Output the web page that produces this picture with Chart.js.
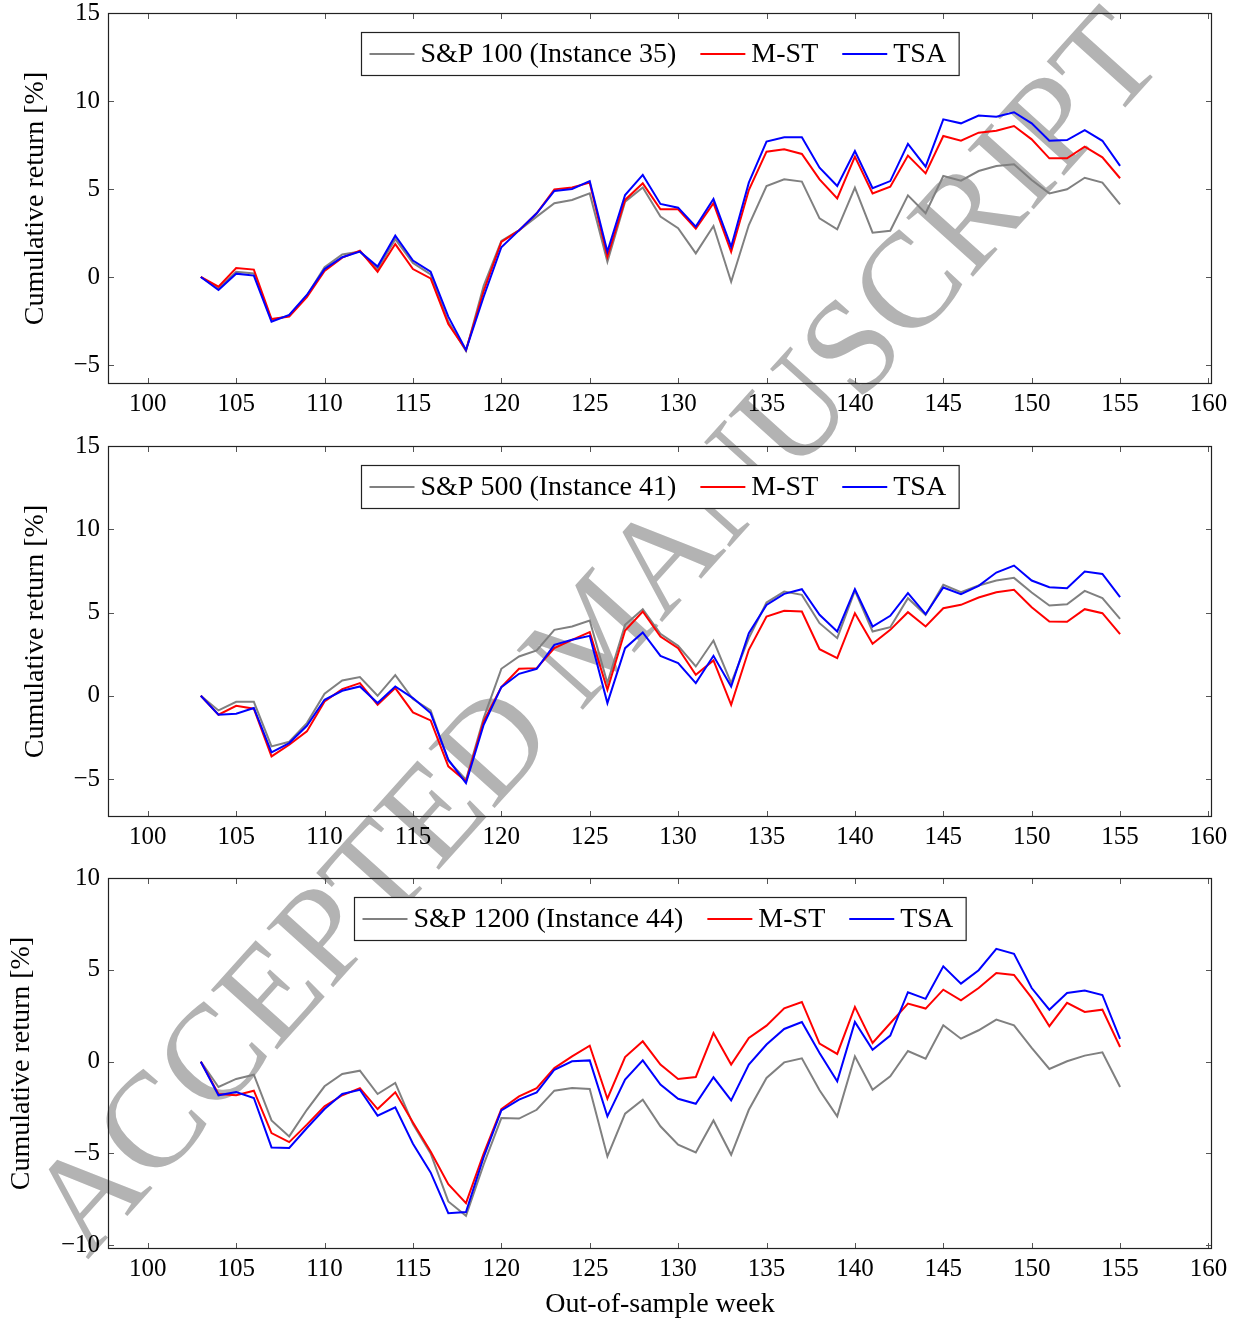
<!DOCTYPE html>
<html><head><meta charset="utf-8">
<script src="https://cdn.jsdelivr.net/npm/chart.js@4/dist/chart.umd.min.js"></script>
<style>
html,body{margin:0;padding:0;background:#fff;}
body{width:1241px;height:1321px;position:relative;overflow:hidden;}
.wm{position:absolute;left:593px;top:630px;transform:translate(-50%,-50%) rotate(-48deg);font:136px "Liberation Serif";color:#b3b3b3;white-space:nowrap;line-height:1;}
.pane{position:absolute;left:0;width:1241px;}
</style></head><body>
<div class="wm">ACCEPTED MANUSCRIPT</div>
<div class="pane" style="top:0;height:425px"><canvas id="c1"></canvas></div>
<div class="pane" style="top:433px;height:425px"><canvas id="c2"></canvas></div>
<div class="pane" style="top:865px;height:456px"><canvas id="c3"></canvas></div>
<script>
const weeks = [103,104,105,106,107,108,109,110,111,112,113,114,115,116,117,118,119,120,121,122,123,124,125,126,127,128,129,130,131,132,133,134,135,136,137,138,139,140,141,142,143,144,145,146,147,148,149,150,151,152,153,154,155];
const xTicks = [100,105,110,115,120,125,130,135,140,145,150,155,160];

// Panel 1: S&P 100 (Instance 35)
const sp100 = [0,-0.65,0.3,0.2,-2.45,-2.2,-1.05,0.55,1.28,1.45,0.45,2.15,0.8,0.15,-2.55,-4.2,-0.5,2.05,2.65,3.43,4.19,4.38,4.75,0.87,4.28,5.09,3.43,2.77,1.34,2.9,-0.27,2.95,5.17,5.55,5.42,3.33,2.71,5.08,2.52,2.63,4.64,3.62,5.74,5.47,6.02,6.31,6.4,5.51,4.75,4.98,5.64,5.36,4.13];
const mst1 = [0,-0.55,0.51,0.42,-2.39,-2.25,-1.15,0.35,1.1,1.5,0.3,1.87,0.45,-0.08,-2.67,-4.15,-0.8,2.0,2.65,3.62,4.98,5.08,5.36,1.15,4.38,5.32,3.85,3.85,2.75,4.19,1.44,4.94,7.12,7.26,6.99,5.55,4.47,6.84,4.75,5.13,6.9,5.89,8.01,7.74,8.2,8.31,8.58,7.82,6.74,6.74,7.4,6.8,5.61];
const tsa1 = [0,-0.74,0.19,0.08,-2.54,-2.16,-1.02,0.45,1.12,1.44,0.59,2.35,0.93,0.3,-2.25,-4.15,-1.12,1.69,2.65,3.62,4.89,5.0,5.45,1.44,4.66,5.8,4.15,3.94,2.86,4.43,1.72,5.36,7.69,7.94,7.94,6.21,5.17,7.16,5.04,5.45,7.56,6.27,8.96,8.73,9.17,9.11,9.36,8.73,7.74,7.78,8.35,7.74,6.31];
const yTicks1 = [-5,0,5,10,15];

// Panel 2: S&P 500 (Instance 41)
const sp500 = [0,-0.88,-0.36,-0.36,-3.04,-2.76,-1.64,0.12,0.92,1.12,0,1.24,-0.2,-0.88,-3.9,-5.04,-1.34,1.62,2.36,2.72,3.96,4.16,4.52,0.76,4.26,5.2,3.72,3.0,1.76,3.32,0.76,3.46,5.6,6.26,6.06,4.36,3.46,6.32,3.86,4.12,5.86,4.86,6.66,6.22,6.62,6.92,7.08,6.2,5.42,5.5,6.3,5.86,4.62];
const mst2 = [0,-1.14,-0.6,-0.78,-3.64,-2.94,-2.14,-0.34,0.4,0.76,-0.54,0.46,-1.0,-1.48,-4.24,-5.14,-1.54,0.52,1.62,1.66,2.86,3.36,3.82,0.36,3.92,5.06,3.56,2.86,1.26,2.12,-0.54,2.76,4.76,5.1,5.06,2.8,2.26,4.96,3.12,3.96,5.02,4.16,5.26,5.46,5.9,6.22,6.36,5.32,4.46,4.44,5.2,4.96,3.7];
const tsa2 = [0,-1.14,-1.08,-0.74,-3.4,-2.84,-1.8,-0.24,0.3,0.56,-0.44,0.56,-0.14,-1.04,-3.84,-5.24,-1.74,0.52,1.32,1.62,3.06,3.36,3.6,-0.44,2.86,3.8,2.4,1.96,0.76,2.4,0.56,3.76,5.46,6.12,6.4,4.86,3.86,6.4,4.16,4.8,6.16,4.9,6.5,6.1,6.6,7.4,7.82,6.92,6.52,6.46,7.46,7.32,5.92];
const yTicks2 = [-5,0,5,10,15];

// Panel 3: S&P 1200 (Instance 44)
const sp1200 = [0,-1.38,-0.94,-0.71,-3.2,-4.07,-2.62,-1.34,-0.67,-0.49,-1.76,-1.16,-3.4,-5.0,-7.61,-8.39,-5.6,-3.07,-3.1,-2.62,-1.58,-1.44,-1.49,-5.16,-2.83,-2.07,-3.52,-4.52,-4.94,-3.2,-5.07,-2.62,-0.89,-0.04,0.18,-1.56,-2.98,0.29,-1.53,-0.8,0.58,0.16,1.98,1.25,1.71,2.29,1.98,0.75,-0.4,0.02,0.33,0.51,-1.38];
const mst3 = [0,-1.76,-1.83,-1.58,-3.89,-4.38,-3.43,-2.43,-1.83,-1.44,-2.58,-1.67,-3.31,-4.89,-6.67,-7.7,-5.0,-2.58,-1.89,-1.44,-0.35,0.29,0.87,-2.02,0.25,1.11,-0.16,-0.94,-0.84,1.56,-0.16,1.29,1.96,2.9,3.25,0.98,0.42,2.98,1.02,2.09,3.16,2.89,3.92,3.34,4.01,4.83,4.72,3.47,1.93,3.2,2.71,2.83,0.8];
const tsa3 = [0,-1.83,-1.65,-1.98,-4.67,-4.7,-3.61,-2.58,-1.76,-1.53,-2.94,-2.49,-4.47,-6.03,-8.25,-8.19,-5.2,-2.65,-2.07,-1.67,-0.44,0.02,0.07,-2.98,-0.98,0.07,-1.25,-2.02,-2.29,-0.85,-2.11,-0.16,0.93,1.78,2.16,0.47,-1.07,2.16,0.65,1.42,3.78,3.42,5.19,4.25,4.98,6.14,5.87,4.01,2.83,3.74,3.87,3.63,1.24];
const yTicks3 = [-10,-5,0,5,10];

const FONT = 'Liberation Serif';

const framePlugin = {
  id: 'frame',
  afterDatasetsDraw(chart) {
    const {ctx, chartArea: a, scales: {x, y}} = chart;
    ctx.save();
    ctx.strokeStyle = '#555';
    ctx.lineWidth = 1;
    ctx.beginPath();
    const L = 6;
    x.ticks.forEach(t => {
      const px = Math.round(x.getPixelForValue(t.value)) + 0.5;
      ctx.moveTo(px, a.bottom); ctx.lineTo(px, a.bottom - L);
      ctx.moveTo(px, a.top); ctx.lineTo(px, a.top + L);
    });
    y.ticks.forEach(t => {
      const py = Math.round(y.getPixelForValue(t.value)) + 0.5;
      ctx.moveTo(a.left, py); ctx.lineTo(a.left + L, py);
      ctx.moveTo(a.right, py); ctx.lineTo(a.right - L, py);
    });
    ctx.stroke();
    ctx.strokeStyle = '#222';
    ctx.lineWidth = 1.2;
    ctx.strokeRect(Math.round(a.left) + 0.5, Math.round(a.top) + 0.5, Math.round(a.right - a.left) - 1, Math.round(a.bottom - a.top) - 1);

    // legend
    const ds = chart.data.datasets;
    ctx.font = '28px "' + FONT + '"';
    const padL = 8, padR = 13, lineLen = 45, gapLT = 6, gapItem = 24;
    const widths = ds.map(d => ctx.measureText(d.label).width);
    let w = padL + padR;
    widths.forEach((tw, i) => { w += lineLen + gapLT + tw + (i < widths.length - 1 ? gapItem : 0); });
    const h = 43;
    const cx = (a.left + a.right) / 2;
    const bx = Math.round(cx - w / 2) + 0.5, by = Math.round(a.top + 19) + 0.5;
    ctx.fillStyle = '#fff';
    ctx.fillRect(bx, by, w, h);
    ctx.strokeStyle = '#222';
    ctx.lineWidth = 1.2;
    ctx.strokeRect(bx, by, w, h);
    let px = bx + padL;
    const my = by + h / 2;
    ctx.textBaseline = 'middle';
    ctx.textAlign = 'left';
    ds.forEach((d, i) => {
      ctx.strokeStyle = d.borderColor;
      ctx.lineWidth = 2;
      ctx.beginPath(); ctx.moveTo(px, my); ctx.lineTo(px + lineLen, my); ctx.stroke();
      px += lineLen + gapLT;
      ctx.fillStyle = '#000';
      ctx.fillText(d.label, px, my + 1);
      px += widths[i] + gapItem;
    });
    ctx.restore();
  }
};

function makeChart(id, labels, series, yMin, yMax, yTicks, xHeight, showXTitle, yTitlePad) {
  const colors = ['#808080', '#ff0000', '#0000ff'];
  const orders = [2, 1, 0];
  const datasets = series.map((vals, k) => ({
    label: labels[k],
    data: weeks.map((w, i) => ({x: w, y: vals[i]})),
    borderColor: colors[k],
    borderWidth: 2,
    pointRadius: 0,
    tension: 0,
    fill: false,
    order: orders[k]
  }));
  return new Chart(document.getElementById(id), {
    type: 'line',
    data: {datasets},
    options: {
      responsive: true,
      maintainAspectRatio: false,
      animation: false,
      events: [],
      layout: {padding: {top: 13, right: 29, left: 0, bottom: 0}},
      plugins: {legend: {display: false}, tooltip: {enabled: false}},
      scales: {
        x: {
          type: 'linear', min: 97.75, max: 160.2,
          afterBuildTicks: s => { s.ticks = xTicks.map(v => ({value: v})); },
          afterFit: s => { s.height = xHeight; s.paddingLeft = 0; s.paddingRight = 0; },
          grid: {display: false, drawTicks: false},
          border: {display: false},
          ticks: {font: {family: FONT, size: 25, lineHeight: 1}, color: '#000', padding: 8, maxRotation: 0, autoSkip: false,
                  callback: v => String(v)},
          title: {display: showXTitle, text: 'Out-of-sample week', color: '#000',
                  font: {family: FONT, size: 28}, padding: {top: 0, bottom: 0}, align: 'center'}
        },
        y: {
          min: yMin, max: yMax,
          afterBuildTicks: s => { s.ticks = yTicks.map(v => ({value: v})); },
          afterFit: s => { s.width = 108; s.paddingTop = 0; s.paddingBottom = 0; },
          grid: {display: false, drawTicks: false},
          border: {display: false},
          ticks: {font: {family: FONT, size: 25, lineHeight: 1}, color: '#000', padding: 8,
                  callback: v => String(v).replace('-', '\u2212')},
          title: {display: true, text: 'Cumulative return [%]', color: '#000',
                  font: {family: FONT, size: 28}, padding: {top: yTitlePad, bottom: 0}}
        }
      }
    },
    plugins: [framePlugin]
  });
}

makeChart('c1', ['S&P 100 (Instance 35)', 'M-ST', 'TSA'], [sp100, mst1, tsa1], -6.08, 15, yTicks1, 41, false, 19);
makeChart('c2', ['S&P 500 (Instance 41)', 'M-ST', 'TSA'], [sp500, mst2, tsa2], -7.28, 15, yTicks2, 41, false, 19);
makeChart('c3', ['S&P 1200 (Instance 44)', 'M-ST', 'TSA'], [sp1200, mst3, tsa3], -10.2, 10, yTicks3, 72, true, 5);
</script>
</body></html>
